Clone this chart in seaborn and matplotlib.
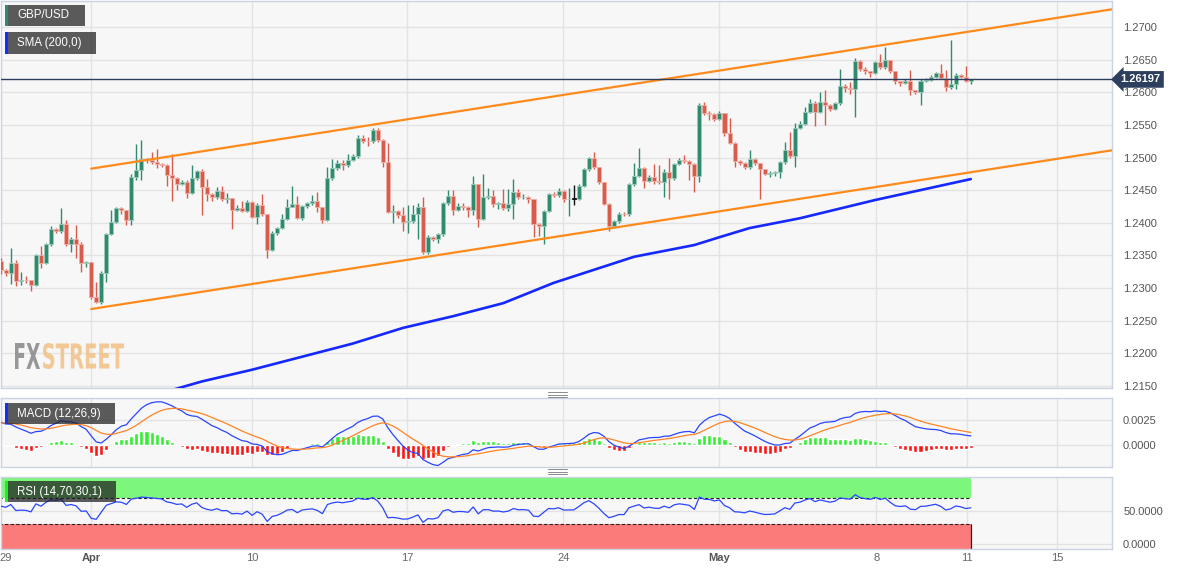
import numpy as np
import pandas as pd
import matplotlib
matplotlib.use("Agg")
import matplotlib.pyplot as plt
import seaborn as sns
from matplotlib.patches import Rectangle, PathPatch
from matplotlib.lines import Line2D
from matplotlib.textpath import TextPath
from matplotlib.font_manager import FontProperties
from matplotlib.transforms import Affine2D, IdentityTransform, blended_transform_factory

# GBP/USD 4-hour candles (open = previous close)
first_open = 1.2342
closes = [
    1.2328, 1.2323, 1.2339, 1.2311, 1.2313, 1.2312, 1.2305, 1.2350, 1.2339, 1.2367,
    1.2390, 1.2387, 1.2398, 1.2368, 1.2375, 1.2368, 1.2338, 1.2340, 1.2287, 1.2278,
    1.2323, 1.2383, 1.2402, 1.2422, 1.2419, 1.2405, 1.2470, 1.2481, 1.2498, 1.2496,
    1.2493, 1.2490, 1.2488, 1.2473, 1.2468, 1.2460, 1.2463, 1.2446, 1.2468, 1.2479,
    1.2455, 1.2444, 1.2439, 1.2448, 1.2437, 1.2438, 1.2420, 1.2422, 1.2418, 1.2432,
    1.2409, 1.2427, 1.2413, 1.2358, 1.2385, 1.2392, 1.2406, 1.2425, 1.2429, 1.2408,
    1.2426, 1.2430, 1.2433, 1.2424, 1.2405, 1.2469, 1.2484, 1.2492, 1.2488, 1.2496,
    1.2503, 1.2530, 1.2526, 1.2525, 1.2542, 1.2527, 1.2493, 1.2416, 1.2418, 1.2412,
    1.2402, 1.2403, 1.2413, 1.2425, 1.2356, 1.2379, 1.2375, 1.2383, 1.2430, 1.2441,
    1.2420, 1.2426, 1.2425, 1.2420, 1.2459, 1.2406, 1.2440, 1.2441, 1.2429, 1.2430,
    1.2423, 1.2429, 1.2447, 1.2439, 1.2440, 1.2437, 1.2398, 1.2395, 1.2418, 1.2444,
    1.2442, 1.2449, 1.2436, 1.2437, 1.2437, 1.2456, 1.2482, 1.2499, 1.2485, 1.2462,
    1.2429, 1.2395, 1.2403, 1.2414, 1.2413, 1.2459, 1.2472, 1.2484, 1.2464, 1.2470,
    1.2464, 1.2463, 1.2478, 1.2469, 1.2490, 1.2497, 1.2494, 1.2490, 1.2471, 1.2581,
    1.2568, 1.2567, 1.2559, 1.2569, 1.2537, 1.2523, 1.2494, 1.2492, 1.2486, 1.2498,
    1.2491, 1.2482, 1.2475, 1.2476, 1.2478, 1.2493, 1.2511, 1.2503, 1.2545, 1.2552,
    1.2570, 1.2584, 1.2570, 1.2585, 1.2580, 1.2575, 1.2583, 1.2610, 1.2607, 1.2605,
    1.2648, 1.2636, 1.2632, 1.2629, 1.2646, 1.2638, 1.2649, 1.2632, 1.2617, 1.2614,
    1.2618, 1.2603, 1.2601, 1.2618, 1.2619, 1.2624, 1.2629, 1.2622, 1.2608, 1.2613,
    1.2626, 1.2623, 1.2617, 1.2620,
]
highs = [
    1.2346, 1.2330, 1.2362, 1.2343, 1.2324, 1.2319, 1.2313, 1.2352, 1.2364, 1.2369,
    1.2395, 1.2392, 1.2423, 1.2404, 1.2378, 1.2397, 1.2370, 1.2342, 1.2340, 1.2309,
    1.2326, 1.2385, 1.2420, 1.2424, 1.2424, 1.2420, 1.2475, 1.2521, 1.2527, 1.2500,
    1.2508, 1.2513, 1.2492, 1.2490, 1.2506, 1.2470, 1.2465, 1.2465, 1.2488, 1.2481,
    1.2482, 1.2467, 1.2445, 1.2455, 1.2456, 1.2445, 1.2438, 1.2427, 1.2434, 1.2435,
    1.2433, 1.2430, 1.2444, 1.2414, 1.2387, 1.2394, 1.2413, 1.2437, 1.2457, 1.2441,
    1.2428, 1.2432, 1.2442, 1.2447, 1.2425, 1.2485, 1.2498, 1.2496, 1.2497, 1.2506,
    1.2506, 1.2535, 1.2535, 1.2531, 1.2546, 1.2546, 1.2528, 1.2523, 1.2427, 1.2420,
    1.2424, 1.2428, 1.2428, 1.2430, 1.2439, 1.2381, 1.2380, 1.2385, 1.2432, 1.2450,
    1.2450, 1.2430, 1.2431, 1.2426, 1.2472, 1.2460, 1.2475, 1.2454, 1.2450, 1.2432,
    1.2452, 1.2452, 1.2467, 1.2452, 1.2444, 1.2441, 1.2437, 1.2400, 1.2420, 1.2446,
    1.2447, 1.2453, 1.2450, 1.2454, 1.2458, 1.2460, 1.2484, 1.2501, 1.2508, 1.2486,
    1.2463, 1.2430, 1.2405, 1.2417, 1.2417, 1.2461, 1.2491, 1.2515, 1.2486, 1.2473,
    1.2490, 1.2489, 1.2482, 1.2500, 1.2492, 1.2500, 1.2504, 1.2497, 1.2491, 1.2583,
    1.2585, 1.2572, 1.2569, 1.2571, 1.2569, 1.2560, 1.2524, 1.2496, 1.2493, 1.2511,
    1.2499, 1.2492, 1.2483, 1.2479, 1.2480, 1.2495, 1.2524, 1.2539, 1.2553, 1.2556,
    1.2577, 1.2590, 1.2586, 1.2600, 1.2604, 1.2582, 1.2585, 1.2635, 1.2612, 1.2615,
    1.2652, 1.2650, 1.2638, 1.2633, 1.2648, 1.2659, 1.2670, 1.2650, 1.2632, 1.2618,
    1.2620, 1.2634, 1.2604, 1.2620, 1.2622, 1.2626, 1.2631, 1.2644, 1.2634, 1.2680,
    1.2630, 1.2628, 1.2641, 1.2621,
]
lows = [
    1.2322, 1.2318, 1.2306, 1.2303, 1.2305, 1.2308, 1.2295, 1.2303, 1.2331, 1.2337,
    1.2364, 1.2384, 1.2385, 1.2364, 1.2355, 1.2346, 1.2325, 1.2333, 1.2284, 1.2277,
    1.2276, 1.2310, 1.2381, 1.2400, 1.2414, 1.2396, 1.2396, 1.2466, 1.2466, 1.2492,
    1.2490, 1.2484, 1.2485, 1.2457, 1.2433, 1.2450, 1.2458, 1.2438, 1.2444, 1.2465,
    1.2412, 1.2433, 1.2433, 1.2436, 1.2434, 1.2431, 1.2390, 1.2418, 1.2416, 1.2416,
    1.2408, 1.2398, 1.2410, 1.2346, 1.2357, 1.2381, 1.2390, 1.2404, 1.2424, 1.2406,
    1.2404, 1.2422, 1.2428, 1.2417, 1.2399, 1.2403, 1.2466, 1.2481, 1.2481, 1.2486,
    1.2494, 1.2500, 1.2522, 1.2518, 1.2523, 1.2524, 1.2486, 1.2415, 1.2399, 1.2408,
    1.2388, 1.2384, 1.2400, 1.2375, 1.2353, 1.2352, 1.2372, 1.2369, 1.2380, 1.2428,
    1.2412, 1.2418, 1.2419, 1.2409, 1.2412, 1.2394, 1.2404, 1.2437, 1.2425, 1.2421,
    1.2419, 1.2418, 1.2406, 1.2436, 1.2436, 1.2430, 1.2379, 1.2380, 1.2367, 1.2416,
    1.2439, 1.2440, 1.2432, 1.2411, 1.2427, 1.2435, 1.2455, 1.2480, 1.2483, 1.2460,
    1.2427, 1.2387, 1.2392, 1.2400, 1.2410, 1.2411, 1.2457, 1.2470, 1.2454, 1.2462,
    1.2460, 1.2459, 1.2440, 1.2436, 1.2466, 1.2488, 1.2491, 1.2465, 1.2447, 1.2462,
    1.2565, 1.2558, 1.2556, 1.2557, 1.2533, 1.2520, 1.2486, 1.2489, 1.2483, 1.2483,
    1.2488, 1.2437, 1.2473, 1.2470, 1.2471, 1.2468, 1.2490, 1.2500, 1.2486, 1.2543,
    1.2550, 1.2568, 1.2549, 1.2568, 1.2550, 1.2572, 1.2573, 1.2580, 1.2600, 1.2598,
    1.2562, 1.2633, 1.2628, 1.2624, 1.2628, 1.2635, 1.2636, 1.2630, 1.2612, 1.2610,
    1.2612, 1.2596, 1.2598, 1.2580, 1.2616, 1.2618, 1.2622, 1.2620, 1.2602, 1.2605,
    1.2605, 1.2622, 1.2615, 1.2612,
]
last_price = 1.26197

# SMA(200) read at a few candle positions
sma_idx = [30, 40, 50, 60, 70, 80, 90, 100, 110, 118, 126, 138, 143, 149, 159, 174, 193]
sma_val = [1.2135, 1.2157, 1.2175, 1.2195, 1.2215, 1.2239, 1.2257, 1.2277, 1.2308, 1.2328,
           1.2348, 1.2366, 1.2378, 1.2392, 1.2407, 1.2435, 1.2467]

# channel drawn on the chart (candle index, price)
trend_idx = [18, 221]
trend_upper = [1.2483, 1.2727]
trend_lower = [1.2268, 1.2511]

# indicator state before the first visible candle
macd_seed = (1.2322, 1.2298, 0.0022)   # ema12, ema26, signal
rsi_seed = (0.00075, 0.00045)          # avg gain, avg loss

day_ticks = [1.0, 18.05, 50.07, 80.9, 111.9, 143.0, 174.2, 192.3, 210.2]
day_labels = ["29", "Apr", "10", "17", "24", "May", "8", "11", "15"]
price_ticks = [1.2150, 1.2200, 1.2250, 1.2300, 1.2350, 1.2400, 1.2450,
               1.2500, 1.2550, 1.2600, 1.2650, 1.2700]
macd_ticks = [0.0, 0.0025]
rsi_ticks = [0.0, 50.0]

sns.set_style("white")
plt.rcParams["font.family"] = ["Liberation Sans", "DejaVu Sans"]

W, H = 1182, 571
GREEN, RED = "#2f8a6e", "#d85c4b"
ORANGE, BLUE, NAVY = "#ff8a1c", "#1428ff", "#2d3f5e"
XMAX = 221.1

df = pd.DataFrame({"close": closes, "high": highs, "low": lows})
df["open"] = df["close"].shift(1).fillna(first_open)
df["i"] = np.arange(len(df))

# MACD(12,26,9)
e12, e26, sig = macd_seed
macd, signal = [], []
for c in closes:
    e12 += 2 / 13 * (c - e12)
    e26 += 2 / 27 * (c - e26)
    m = e12 - e26
    sig += 2 / 10 * (m - sig)
    macd.append(m)
    signal.append(sig)
df["macd"] = macd
df["signal"] = signal
df["hist"] = df["macd"] - df["signal"]

# RSI(14), Wilder smoothing
g, l = rsi_seed
rsi = []
prev = first_open
for c in closes:
    d = c - prev
    prev = c
    g = (g * 13 + max(d, 0)) / 14
    l = (l * 13 + max(-d, 0)) / 14
    rsi.append(100 - 100 / (1 + g / l))
df["rsi"] = rsi

fig = plt.figure(figsize=(W / 100, H / 100), dpi=100)
fig.patch.set_facecolor("white")


def px_axes(top, bottom):
    return fig.add_axes([0.5 / W, 1 - bottom / H, 1111.5 / W, (bottom - top) / H])


def style(a, ticks, fmt, ylim):
    a.set_facecolor("#f7f7f7")
    a.set_xlim(-0.05, XMAX)
    a.set_ylim(*ylim)
    a.yaxis.tick_right()
    a.set_yticks(ticks)
    a.set_yticklabels([fmt.format(t) for t in ticks])
    a.tick_params(axis="y", length=0, pad=8, labelsize=8, labelcolor="#555555")
    a.set_xticks(day_ticks)
    a.tick_params(axis="x", length=0, labelbottom=False)
    a.set_xlabel("")
    a.set_ylabel("")
    a.grid(False)
    for t in ticks:
        a.axhline(t, color="#e3e3e3", lw=1, zorder=0)
    for d in day_ticks[1:]:
        a.axvline(d, color="#e3e3e3", lw=1, zorder=0)
    for s in a.spines.values():
        s.set_color("#cbd2e2")
        s.set_linewidth(1)


ax = px_axes(1, 388)
ax2 = px_axes(398, 467)
ax3 = px_axes(477, 549)

# --- price panel ---
up = df["close"] > df["open"]
dn = df["close"] < df["open"]
body_col = np.where(up, GREEN, np.where(dn, RED, "#111111"))
edge_col = np.where(up, "#9ccbbb", np.where(dn, "#f0b0a6", "#111111"))
mid = (df["open"] + df["close"]) / 2
body_h = (df["close"] - df["open"]).abs().clip(lower=0.00012)
ax.vlines(df["i"], df["low"], df["high"], colors=body_col, lw=1, zorder=3)
ax.bar(df["i"], body_h, bottom=mid - body_h / 2, width=0.8, color=body_col,
       edgecolor=edge_col, linewidth=0.6, zorder=4)

sns.lineplot(x=trend_idx, y=trend_upper, ax=ax, color=ORANGE, linewidth=1.6, zorder=5)
sns.lineplot(x=trend_idx, y=trend_lower, ax=ax, color=ORANGE, linewidth=1.6, zorder=5)
sns.lineplot(x=sma_idx, y=sma_val, ax=ax, color=BLUE, linewidth=1.9, zorder=5)
ax.axhline(last_price, color=NAVY, lw=1, zorder=6)
style(ax, price_ticks, "{:.4f}", (1.21470, 1.27398))
ax.text(1.0075, last_price, f"{last_price:.5f}",
        transform=blended_transform_factory(ax.transAxes, ax.transData),
        ha="left", va="center", color="white", fontsize=8, fontweight="bold",
        bbox=dict(boxstyle="larrow,pad=0.3", fc=NAVY, ec="none"), clip_on=False)

# --- MACD panel ---
hist_col = np.where(df["hist"] >= 0, "#33ee33", "#ff1414")
ax2.bar(df["i"], df["hist"], width=0.8, color=hist_col, zorder=2)
sns.lineplot(x=df["i"], y=df["macd"], ax=ax2, color="#2a45ff", linewidth=0.9, zorder=3)
sns.lineplot(x=df["i"], y=df["signal"], ax=ax2, color="#ff8326", linewidth=0.9, zorder=3)
style(ax2, macd_ticks, "{:.4f}", (-0.0022, 0.0047))

# --- RSI panel ---
x0, x1 = -0.5, df["i"].iloc[-1]
ax3.fill_between([x0, x1], 70, 100.5, color="#7cf77c", zorder=1, lw=0)
ax3.fill_between([x0, x1], -7.6, 30, color="#fb7b7b", zorder=1, lw=0)
ax3.hlines([70, 30], x0, x1, colors="#222222", linestyles=(0, (3, 2)), lw=0.8, zorder=2)
ax3.vlines([x0, x1], [70, -7.6], [100.5, 30], colors="#222222", lw=0.8, zorder=2)
ax3.vlines([x0, x1], [-7.6, -7.6], [30, 30], colors="#222222", lw=0.8, zorder=2)
sns.lineplot(x=df["i"], y=df["rsi"], ax=ax3, color="#2a45ff", linewidth=0.9, zorder=3)
style(ax3, rsi_ticks, "{:.4f}", (-7.6, 101.5))
ax3.tick_params(axis="x", labelbottom=True, labelsize=8, labelcolor="#666666", pad=3)
ax3.set_xticklabels(day_labels)
for lab in ax3.get_xticklabels():
    if lab.get_text() in ("Apr", "May"):
        lab.set_fontweight("bold")
        lab.set_color("#555555")


# --- legend tags ---
def tag(x, y, w, h, label, stripe):
    fig.add_artist(Rectangle((x / W, 1 - (y + h) / H), w / W, h / H, transform=fig.transFigure,
                             fc="#1e1e1e", alpha=0.72, ec="none", zorder=10))
    fig.add_artist(Rectangle((x / W, 1 - (y + h) / H), 3 / W, h / H, transform=fig.transFigure,
                             fc=stripe, ec="none", zorder=11))
    fig.text((x + 12) / W, 1 - (y + h / 2) / H, label, color="white", fontsize=8.3,
             va="center", ha="left", zorder=12)


tag(5, 5, 80, 21, "GBP/USD", "#2e8a6e")
tag(5, 32, 91, 22, "SMA (200,0)", "#1030ff")
tag(5, 403, 110, 21, "MACD (12,26,9)", "#1030ff")
tag(5, 481, 111, 21, "RSI (14,70,30,1)", "#22ee22")


# --- watermark ---
def stamp(text, box, color):
    bx0, by0, bx1, by1 = box
    tp = TextPath((0, 0), text, size=10, prop=FontProperties(family="DejaVu Sans", weight="bold"))
    ext = tp.get_extents()
    tr = (Affine2D().translate(-ext.x0, -ext.y0)
          .scale((bx1 - bx0) / ext.width, (by1 - by0) / ext.height)
          .translate(bx0, H - by1))
    fig.add_artist(PathPatch(tr.transform_path(tp), transform=IdentityTransform(),
                             fc=color, ec="none", alpha=0.9, zorder=2))


stamp("FX", (15, 343, 40, 369), "#8d8d8d")
stamp("STREET", (43, 343, 124, 369), "#f1c38c")

# panel resize handles
for yy in (392, 394.5, 397, 469, 471.5, 474):
    fig.add_artist(Line2D([548 / W, 567 / W], [1 - yy / H] * 2, transform=fig.transFigure,
                          color="#8a8a8a", lw=0.7))

fig.savefig("out.png", dpi=100)
